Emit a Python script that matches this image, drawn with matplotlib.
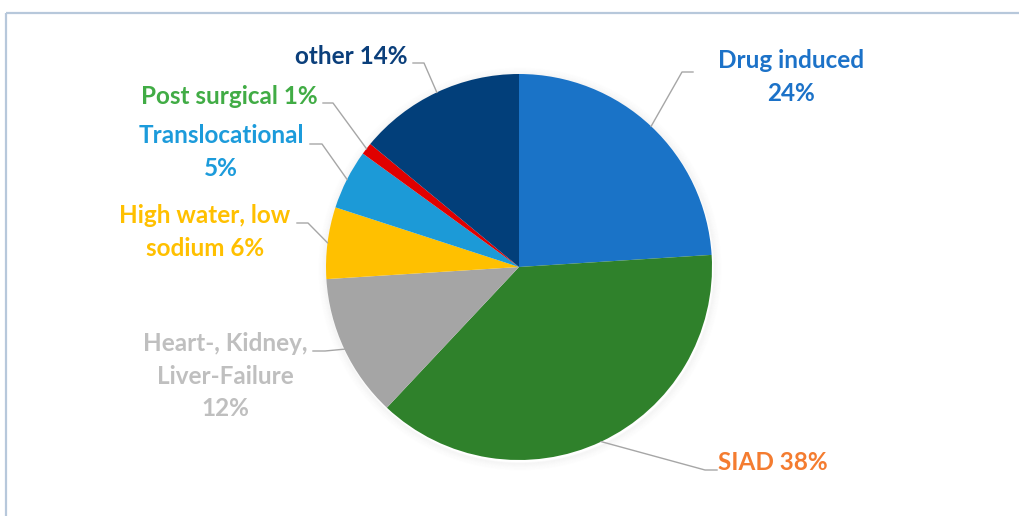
import numpy as np
import matplotlib.pyplot as plt
from matplotlib.patches import Rectangle, Circle

# Datos del gráfico (orden horario desde las 12)
categorias = ["Drug induced", "SIAD", "Heart-, Kidney,\nLiver-Failure",
              "High water, low\nsodium", "Translocational", "Post surgical", "other"]
porcentajes = [24, 38, 12, 6, 5, 1, 14]
etiquetas = ["Drug induced\n24%", "SIAD 38%", "Heart-, Kidney,\nLiver-Failure\n12%",
             "High water, low\nsodium 6%", "Translocational\n5%", "Post surgical 1%",
             "other 14%"]

colores = ["#1A73C7", "#2F812B", "#A5A5A5", "#FFC000", "#1C9AD7", "#E00000", "#023F7A"]
colores_texto = ["#1C72C8", "#F47C30", "#BFBFBF", "#FFC000", "#1C9BDB", "#41AC45", "#0B3F7B"]

# Posición de cada etiqueta (píxeles) y codo de la línea guía
pos_etiqueta = [(791, 77), (773, 462), (225, 376), (205, 232), (221, 152), (229, 96), (351, 56)]
codo = [(682, 72), (705, 470), (325, 351), (308, 223), (322, 144), (333, 103), (424, 63)]
fin_linea = [(693, 72), (717, 470), (313, 351), (297, 223), (310, 144), (323, 103), (413, 63)]

W, H = 1019, 516
CX, CY, R = 519, 267, 193

plt.rcParams["font.family"] = ["Lato", "DejaVu Sans"]

fig = plt.figure(figsize=(W / 100, H / 100), dpi=100)
ax = fig.add_axes([0, 0, 1, 1])

# marco del área del gráfico
ax.add_patch(Rectangle((6.5, 12.5), W + 50, H + 50, facecolor="none",
                       edgecolor="#B7C8DB", linewidth=1.6, zorder=0))

# sombra suave alrededor de la torta
for k in range(8):
    ax.add_patch(Circle((CX + 1, CY + 2), R + 1 + k, facecolor="none",
                        edgecolor="black", alpha=0.025 * (8 - k) / 8,
                        linewidth=1.2, zorder=1))

# torta: con el eje y invertido, -90 apunta arriba y counterclock gira en sentido horario
wedges, _ = ax.pie(porcentajes, colors=colores, startangle=-90, counterclock=True,
                   center=(CX, CY), radius=R, frame=True,
                   wedgeprops=dict(linewidth=0, zorder=2))
ax.set_xlim(0, W)
ax.set_ylim(H, 0)
ax.axis("off")

acum = np.cumsum([0] + porcentajes)
for i, txt in enumerate(etiquetas):
    medio = (acum[i] + acum[i + 1]) / 2 / 100 * 2 * np.pi
    x0 = CX + R * np.sin(medio)
    y0 = CY - R * np.cos(medio)
    xs = [x0, codo[i][0], fin_linea[i][0]]
    ys = [y0, codo[i][1], fin_linea[i][1]]
    ax.plot(xs, ys, color="#A6A6A6", linewidth=1.0, zorder=3)
    ax.text(pos_etiqueta[i][0], pos_etiqueta[i][1], txt, color=colores_texto[i],
            fontsize=17.5, fontweight="bold", ha="center", va="center",
            linespacing=1.52, zorder=4)

fig.savefig("out.png", dpi=100)
